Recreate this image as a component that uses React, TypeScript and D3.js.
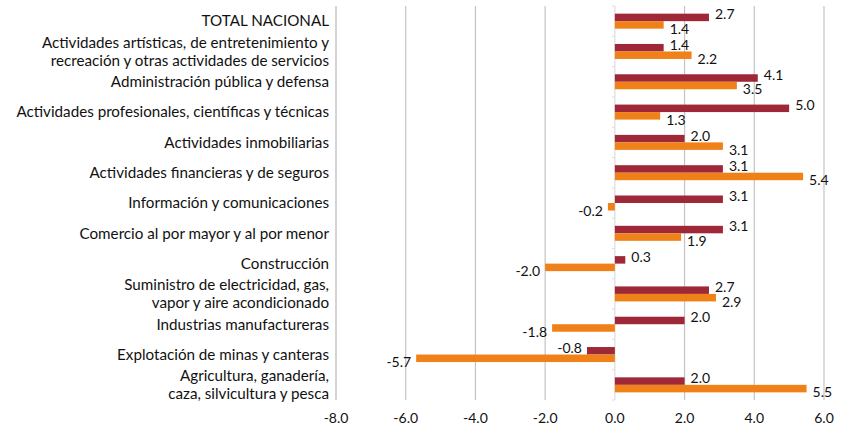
import React from "react";
import * as d3 from "d3";

const categories: string[][] = [
  ["TOTAL NACIONAL"],
  ["Actividades artísticas, de entretenimiento y", "recreación y otras actividades de servicios"],
  ["Administración pública y defensa"],
  ["Actividades profesionales, científicas y técnicas"],
  ["Actividades inmobiliarias"],
  ["Actividades financieras y de seguros"],
  ["Información y comunicaciones"],
  ["Comercio al por mayor y al por menor"],
  ["Construcción"],
  ["Suministro de electricidad, gas,", "vapor y aire acondicionado"],
  ["Industrias manufactureras"],
  ["Explotación de minas y canteras"],
  ["Agricultura, ganadería,", "caza, silvicultura y pesca"],
];

const seriesA: number[] = [2.7, 1.4, 4.1, 5.0, 2.0, 3.1, 3.1, 3.1, 0.3, 2.7, 2.0, -0.8, 2.0];
const seriesB: number[] = [1.4, 2.2, 3.5, 1.3, 3.1, 5.4, -0.2, 1.9, -2.0, 2.9, -1.8, -5.7, 5.5];
const xTicks: number[] = [-8, -6, -4, -2, 0, 2, 4, 6];

const W = 843;
const H = 429;
const FONT = "Lato, 'Open Sans', sans-serif";
const RED = "#9F2838";
const ORANGE = "#EF8118";

export default function App() {
  const x = d3.scaleLinear().domain([-8, 6]).range([336, 824]);
  const ids = categories.map((_, i) => String(i));
  const y = d3.scaleBand<string>().domain(ids).range([6, 400]).paddingInner(0).paddingOuter(0);
  const inner = d3.scaleBand<string>().domain(["a", "b"]).range([-7.5, 7.5]);
  const f1 = d3.format(".1f");
  const fmt = (v: number) => f1(v).replace("\u2212", "-");
  const series = [
    { key: "a", values: seriesA, color: RED, dy: -3 },
    { key: "b", values: seriesB, color: ORANGE, dy: 4 },
  ];

  return (
    <svg width={W} height={H} style={{ position: "absolute", left: 0, top: 0, background: "#fff" }}>
      {xTicks.filter((t) => t !== 0).map((t) => (
        <line key={"g" + t} x1={x(t)} x2={x(t)} y1={6} y2={400} stroke={t === -8 ? "#b8b8b8" : "#c4c4c4"} strokeWidth={1.2} />
      ))}
      <line x1={x(0)} x2={x(0)} y1={6} y2={400} stroke="#dcdcdc" strokeWidth={1.2} />
      {ids.map((id) => (
        <line key={"tk" + id} x1={x(0) - 3} x2={x(0)} y1={y(id)!} y2={y(id)!} stroke="#dcdcdc" strokeWidth={1} />
      ))}
      <line x1={x(0) - 3} x2={x(0)} y1={400} y2={400} stroke="#dcdcdc" strokeWidth={1} />
      {series.map((s) =>
        s.values.map((v, i) => {
          const cy = y(String(i))! + y.bandwidth() / 2 + inner(s.key)!;
          return (
            <rect
              key={s.key + i}
              x={Math.min(x(0), x(v))}
              y={cy}
              width={Math.abs(x(v) - x(0))}
              height={inner.bandwidth()}
              fill={s.color}
            />
          );
        })
      )}
      {series.map((s) =>
        s.values.map((v, i) => {
          const cy = y(String(i))! + y.bandwidth() / 2 + inner(s.key)! + inner.bandwidth() / 2 + s.dy;
          const pos = v >= 0;
          return (
            <text
              key={"l" + s.key + i}
              x={pos ? x(v) + 6 : x(v) - 5}
              y={cy}
              dy="0.35em"
              textAnchor={pos ? "start" : "end"}
              fontFamily={FONT}
              fontSize={14}
              fill="#111"
            >
              {fmt(v)}
            </text>
          );
        })
      )}
      {categories.map((lines, i) => {
        const cy = y(String(i))! + y.bandwidth() / 2;
        const lh = 17.5;
        const start = cy - ((lines.length - 1) * lh) / 2;
        return (
          <text key={"c" + i} x={329} textAnchor="end" fontFamily={FONT} fontSize={15.2} fill="#111">
            {lines.map((ln, j) => (
              <tspan key={j} x={329} y={start + j * lh} dy="0.35em">
                {ln}
              </tspan>
            ))}
          </text>
        );
      })}
      {xTicks.map((t) => (
        <text key={"xt" + t} x={x(t)} y={418} dy="0.35em" textAnchor="middle" fontFamily={FONT} fontSize={14} fill="#111">
          {fmt(t)}
        </text>
      ))}
    </svg>
  );
}
